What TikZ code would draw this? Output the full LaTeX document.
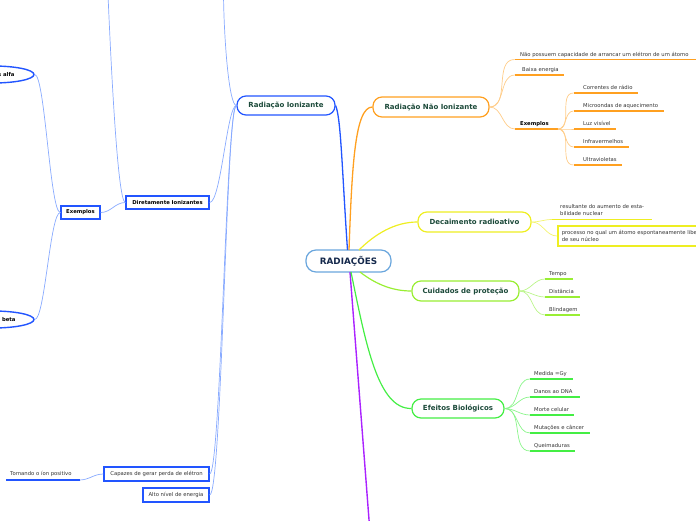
\documentclass[tikz,border=0pt]{standalone}
\usepackage{fontspec}
\setmainfont{DejaVu Sans}
\usetikzlibrary{shapes.geometric}
\definecolor{cblue}{HTML}{2255FF}
\definecolor{cbluel}{HTML}{88AAFF}
\definecolor{corange}{HTML}{FFA020}
\definecolor{corangel}{HTML}{FFCC88}
\definecolor{cyellow}{HTML}{EEEE22}
\definecolor{cyellowl}{HTML}{F4F470}
\definecolor{clime}{HTML}{99EE33}
\definecolor{climel}{HTML}{BBF58A}
\definecolor{cgreen}{HTML}{44EE44}
\definecolor{cgreenl}{HTML}{8AF58A}
\definecolor{cpurple}{HTML}{AA22FF}
\definecolor{ccenter}{HTML}{6AA6DD}
\definecolor{cnavy}{HTML}{14284B}
\definecolor{ctgreen}{HTML}{1C4A3A}
\definecolor{cleaf}{HTML}{333333}
\tikzset{
  mainbox/.style={draw, rounded corners=9pt, line width=1.2pt, fill=white,
    font=\bfseries\fontsize{7}{8}\selectfont, text=ctgreen, minimum height=20pt, inner sep=0pt},
  bluebox/.style={draw=cblue, line width=1.3pt, fill=white, text=black,
    font=\fontsize{5.3}{6}\selectfont, minimum height=13pt, inner sep=0pt},
  leaf/.style={font=\fontsize{5.3}{6.3}\selectfont, text=cleaf, inner sep=0pt, anchor=base west},
  lnk/.style={line width=0.7pt},
  uline/.style={line width=1.4pt},
  ell/.style={ellipse, draw=cblue, line width=1.4pt, fill=white, inner sep=0pt,
    font=\bfseries\fontsize{5.3}{6}\selectfont, text=black}
}
\begin{document}
\begin{tikzpicture}[x=1pt,y=-1pt]
\useasboundingbox (0,0) rectangle (696,520);
\clip (0,0) rectangle (696,520);

% ---------- main nodes ----------
\node[mainbox, draw=ccenter, text=cnavy, rounded corners=10pt, minimum width=85pt, minimum height=22pt,
  font=\bfseries\fontsize{8.8}{9}\selectfont] (rad) at (348.5,261) {RADIAÇÕES};
\node[mainbox, draw=cblue, minimum width=98pt, minimum height=19pt] (ri) at (286,105.5) {Radiação Ionizante};
\node[mainbox, draw=corange, minimum width=116pt] (rni) at (431,107) {Radiação Não Ionizante};
\node[mainbox, draw=cyellow, minimum width=113pt] (dec) at (474.5,222) {Decaimento radioativo};
\node[mainbox, draw=clime, minimum width=107pt] (cui) at (465.5,291) {Cuidados de proteção};
\node[mainbox, draw=cgreen, minimum width=92pt, minimum height=19pt] (efe) at (458,408.5) {Efeitos Biológicos};

% ---------- main connectors ----------
\coordinate (pend) at (369.5,526);
\draw[cpurple, line width=1.4pt] (350,272) -- (pend);
\draw[cblue, line width=1.3pt] (347.5,250) .. controls (342,170) and (341,118) .. (ri.east);
\draw[corange, line width=1.3pt] (349,250) .. controls (352,165) and (355,107) .. (rni.west);
\draw[cyellow, line width=1.2pt] (359,250) .. controls (375,234) and (395,222) .. (dec.west);
\draw[clime, line width=1.2pt] (360,272) .. controls (378,286) and (395,291) .. (cui.west);
\draw[cgreen, line width=1.2pt] (351,272) .. controls (366,345) and (378,409) .. (efe.west);

% ---------- Radiação Ionizante (left) ----------
\node[bluebox, minimum width=83pt, font=\bfseries\fontsize{5.3}{6}\selectfont] (di) at (167.5,202.5) {Diretamente Ionizantes};
\node[bluebox, minimum width=39pt, font=\bfseries\fontsize{5.3}{6}\selectfont] (ex) at (80.5,212.5) {Exemplos};
\node[bluebox, minimum width=105pt, minimum height=14pt, text=cleaf] (cap) at (156.5,474) {Capazes de gerar perda de elétron};
\node[bluebox, minimum width=66pt, minimum height=14pt, text=cleaf] (alto) at (176,495) {Alto nível de energia};
\node[ell, minimum width=82pt, minimum height=17pt] (alfa) at (-7,74.5) {Partículas alfa};
\node[ell, minimum width=82pt, minimum height=17pt] (beta) at (-7,319.5) {Partículas beta};

\coordinate (topa) at (223.5,-5);
\coordinate (topb) at (108,-5);
\draw[cbluel, lnk] (ri.west) .. controls (229,105.5) and (224,40) .. (topa);
\draw[cbluel, lnk] (ri.west) .. controls (227,105.5) and (221,202.5) .. (di.east);
\draw[cbluel, lnk] (ri.west) .. controls (226,105.5) and (221,474) .. (cap.east);
\draw[cbluel, lnk] (ri.west) .. controls (226,105.5) and (222,495) .. (alto.east);
\draw[cbluel, lnk] (di.west) .. controls (117,202.5) and (110,40) .. (topb);
\draw[cbluel, lnk] (di.west) to[out=180,in=0] (ex.east);
\draw[cbluel, lnk] (ex.west) .. controls (50,212.5) and (45,74.5) .. (alfa.east);
\draw[cbluel, lnk] (ex.west) .. controls (50,212.5) and (45,319.5) .. (beta.east);

\coordinate (tor1) at (79.5,480);
\coordinate (tor2) at (6,480);
\draw[cbluel, lnk] (cap.west) to[out=180,in=0] (tor1);
\draw[cblue, uline] (tor1) -- (tor2);
\node[leaf] (tor) at (10,475.5) {Tornando o íon positivo};

% ---------- Radiação Não Ionizante ----------
\coordinate (o1) at (514.5,59.5);   \coordinate (o1e) at (700,59.5);
\coordinate (o2) at (515,75);       \coordinate (o2e) at (564,75);
\coordinate (o3) at (515,129);      \coordinate (o3e) at (558,129);
\foreach \c in {o1,o2,o3} \draw[corangel, lnk] (rni.east) to[out=0,in=180] (\c);
\draw[corange, uline] (o1) -- (o1e);
\draw[corange, uline] (o2) -- (o2e);
\draw[corange, uline] (o3) -- (o3e);
\node[leaf] (t1) at (520,56) {Não possuem capacidade de arrancar um elétron de um átomo};
\node[leaf] (t2) at (522,71.5) {Baixa energia};
\node[leaf, font=\bfseries\fontsize{5.3}{6}\selectfont, text=black] (t3) at (520,125.5) {Exemplos};

\coordinate (e1) at (573.5,93);   \coordinate (e1e) at (638,93);
\coordinate (e2) at (573.5,111);  \coordinate (e2e) at (664,111);
\coordinate (e3) at (573.5,129);  \coordinate (e3e) at (616,129);
\coordinate (e4) at (573.5,147);  \coordinate (e4e) at (629,147);
\coordinate (e5) at (573.5,165);  \coordinate (e5e) at (622,165);
\foreach \c in {e1,e2,e3,e4,e5} {
  \draw[corangel, lnk] (o3e) to[out=0,in=180] (\c);
  \draw[corange, uline] (\c) -- (\c e);
}
\node[leaf] (u1) at (583,89.5) {Correntes de rádio};
\node[leaf] (u2) at (583,107.5) {Microondas de aquecimento};
\node[leaf] (u3) at (583,125.5) {Luz visível};
\node[leaf] (u4) at (583,143.5) {Infravermelhos};
\node[leaf] (u5) at (583,161.5) {Ultravioletas};

% ---------- Decaimento radioativo ----------
\coordinate (d1) at (552,219.5); \coordinate (d1e) at (652,219.5);
\draw[cyellowl, lnk] (dec.east) to[out=0,in=180] (d1);
\draw[cyellow, uline] (d1) -- (d1e);
\node[leaf, anchor=north west, align=left] (dt1) at (560,204.5) {resultante do aumento de esta-\\bilidade nuclear};
\node[draw=cyellow, line width=1.6pt, fill=white, anchor=west, minimum height=20pt,
  inner xsep=4pt, inner ysep=0pt, align=left, text=cleaf, font=\fontsize{5.3}{6.3}\selectfont] (dbox) at (557,236)
  {processo no qual um átomo espontaneamente libera energia\\de seu núcleo};
\draw[cyellowl, lnk] (dec.east) to[out=0,in=180] (dbox.west);

% ---------- Cuidados de proteção ----------
\coordinate (c1) at (545,279);  \coordinate (c1e) at (573,279);
\coordinate (c2) at (545,297);  \coordinate (c2e) at (580,297);
\coordinate (c3) at (545,315);  \coordinate (c3e) at (580,315);
\foreach \c in {c1,c2,c3} {
  \draw[climel, lnk] (cui.east) to[out=0,in=180] (\c);
  \draw[clime, uline] (\c) -- (\c e);
}
\node[leaf] (ct1) at (549,275) {Tempo};
\node[leaf] (ct2) at (549,293) {Distância};
\node[leaf] (ct3) at (549,311) {Blindagem};

% ---------- Efeitos Biológicos ----------
\coordinate (b1) at (530,379);  \coordinate (b1e) at (573,379);
\coordinate (b2) at (530,397);  \coordinate (b2e) at (580,397);
\coordinate (b3) at (530,415);  \coordinate (b3e) at (574,415);
\coordinate (b4) at (530,433);  \coordinate (b4e) at (590,433);
\coordinate (b5) at (530,451);  \coordinate (b5e) at (575,451);
\foreach \c in {b1,b2,b3,b4,b5} {
  \draw[cgreenl, lnk] (efe.east) to[out=0,in=180] (\c);
  \draw[cgreen, uline] (\c) -- (\c e);
}
\node[leaf] (bt1) at (534,375) {Medida =Gy};
\node[leaf] (bt2) at (534,393) {Danos ao DNA};
\node[leaf] (bt3) at (534,411) {Morte celular};
\node[leaf] (bt4) at (534,429) {Mutações e câncer};
\node[leaf] (bt5) at (534,447) {Queimaduras};
\end{tikzpicture}
\end{document}
